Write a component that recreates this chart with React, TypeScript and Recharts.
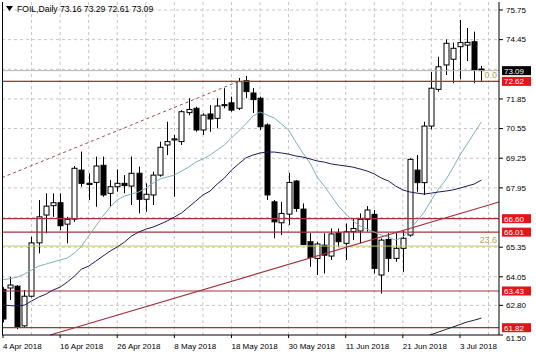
import React from 'react';
import {
	Bar,
	CartesianGrid,
	ComposedChart,
	Line,
	ReferenceLine,
	XAxis,
	YAxis,
} from 'recharts';

// daily candles, 4 Apr 2018 .. 6 Jul 2018 (index = trading day)
const opens = [
	63.5, 63.56, 63.64, 61.9, 63.2, 65.54, 66.76, 67.17,
	67.3, 66.36, 66.58, 68.73, 68.15, 68.19, 68.94, 67.71,
	68.0, 68.15, 68.03, 68.59, 67.45, 67.64, 68.51, 69.83,
	70.05, 69.98, 71.25, 71.44, 70.49, 71.19, 71.0, 71.56,
	71.68, 71.44, 72.65, 72.11, 71.88, 70.71, 67.34, 66.42,
	66.8, 68.25, 67.02, 65.59, 64.86, 65.44, 64.96, 65.98,
	65.52, 66.03, 66.06, 66.57, 66.79, 64.13, 65.69, 64.86,
	65.3, 65.88, 68.73, 68.18, 70.66, 72.27, 73.34, 73.59,
	74.14, 74.21, 74.36, 73.16,
];
const highs = [
	63.6, 64.05, 63.69, 63.47, 65.81, 67.42, 67.71, 67.71,
	67.71, 66.68, 68.91, 69.54, 68.59, 69.32, 69.32, 68.29,
	68.76, 68.51, 69.32, 68.88, 68.15, 68.66, 69.98, 70.85,
	70.27, 71.36, 71.88, 71.51, 71.22, 71.58, 71.88, 72.32,
	71.95, 72.77, 72.86, 72.33, 71.95, 70.78, 67.42, 67.34,
	68.61, 68.29, 67.27, 65.96, 65.59, 65.96, 66.17, 66.17,
	66.39, 66.61, 66.83, 67.15, 66.98, 65.74, 65.96, 65.96,
	66.1, 69.25, 69.39, 70.85, 73.04, 73.7, 74.46, 74.32,
	75.31, 74.96, 74.8, 73.29,
];
const lows = [
	62.05, 63.03, 61.76, 61.86, 63.15, 65.08, 65.96, 66.68,
	66.1, 65.52, 66.46, 68.0, 67.42, 67.12, 67.56, 67.12,
	67.78, 67.71, 67.2, 66.83, 66.9, 67.2, 68.44, 69.39,
	67.56, 69.83, 71.14, 70.41, 70.27, 70.41, 70.56, 71.44,
	71.29, 71.36, 71.88, 71.23, 70.49, 67.42, 65.74, 65.88,
	66.32, 66.9, 65.44, 64.49, 64.13, 64.2, 64.79, 65.37,
	64.79, 65.66, 65.52, 66.03, 64.2, 63.32, 64.27, 64.71,
	64.27, 65.81, 67.78, 67.64, 70.52, 72.17, 72.9, 72.54,
	72.71, 73.51, 72.54, 72.61,
];
const closes = [
	62.2, 63.69, 61.86, 63.2, 65.54, 66.68, 67.15, 67.3,
	66.29, 66.57, 68.81, 68.15, 68.1, 68.91, 67.64, 68.0,
	68.15, 68.05, 68.59, 67.45, 67.67, 68.51, 69.73, 69.98,
	70.1, 71.29, 71.39, 70.49, 71.14, 70.97, 71.54, 71.6,
	71.36, 72.61, 72.17, 71.82, 70.63, 67.64, 66.46, 66.83,
	68.19, 67.05, 65.47, 64.9, 65.49, 65.0, 65.93, 65.59,
	66.03, 66.17, 66.57, 66.98, 64.42, 65.66, 64.86, 65.3,
	65.74, 69.2, 68.18, 70.66, 72.32, 73.26, 74.29, 74.07,
	74.32, 74.33, 73.12, 73.09,
];

// moving averages
const maFast = [
	63.93, 63.97, 64.04, 64.17, 64.35, 64.52, 64.61, 64.7,
	64.79, 64.87, 65.09, 65.4, 65.84, 66.28, 66.71, 67.11,
	67.42, 67.59, 67.68, 67.77, 67.94, 68.16, 68.34, 68.43,
	68.51, 68.69, 68.86, 69.08, 69.22, 69.39, 69.61, 69.83,
	70.14, 70.44, 70.75, 71.1, 71.28, 71.14, 71.01, 70.75,
	70.49, 69.96, 69.48, 69.04, 68.43, 68.03, 67.59, 67.15,
	66.8, 66.5, 66.28, 66.14, 66.01, 65.88, 65.79, 65.66,
	65.79, 66.14, 66.5, 66.89, 67.42, 67.9, 68.29, 68.82,
	69.39, 69.87, 70.36, 70.84,
];
const maSlow = [
	62.81, 62.79, 62.77, 62.81, 62.99, 63.16, 63.29, 63.47,
	63.6, 63.82, 64.08, 64.39, 64.52, 64.74, 64.96, 65.18,
	65.36, 65.57, 65.84, 66.01, 66.14, 66.23, 66.36, 66.5,
	66.67, 66.85, 67.11, 67.37, 67.64, 67.81, 68.12, 68.38,
	68.73, 69.0, 69.26, 69.39, 69.48, 69.52, 69.52, 69.48,
	69.43, 69.35, 69.3, 69.22, 69.13, 69.08, 69.0, 68.95,
	68.91, 68.86, 68.78, 68.69, 68.56, 68.38, 68.25, 68.03,
	67.86, 67.77, 67.72, 67.68, 67.72, 67.77, 67.81, 67.86,
	67.94, 68.03, 68.12, 68.29,
];
const maLong = [
	null, null, null, null, null, null, null, null,
	null, null, null, null, null, null, null, null,
	null, null, null, null, null, null, null, null,
	null, null, null, null, null, null, null, null,
	null, null, null, null, null, null, null, null,
	null, null, null, null, null, null, null, null,
	null, null, null, null, null, null, null, null,
	null, null, null, 61.41, 61.52, 61.63, 61.74, 61.85,
	61.96, 62.07, 62.15, 62.24,
];

const dateTicks = [0, 8, 16, 24, 32, 40, 48, 56, 64];
const dateLabels = [
	'4 Apr 2018', '16 Apr 2018', '26 Apr 2018', '8 May 2018', '18 May 2018',
	'30 May 2018', '11 Jun 2018', '21 Jun 2018', '3 Jul 2018',
];
const priceTicks = [61.5, 62.8, 64.05, 65.35, 67.95, 69.25, 70.55, 71.85, 74.45, 75.75];
const gridPrices = [62.8, 64.05, 65.35, 66.65, 67.95, 69.25, 70.55, 71.85, 73.15, 74.45, 75.75];
const gridBars = [4, 8, 12, 16, 20, 24, 28, 32, 36, 40, 44, 48, 52, 56, 60, 64, 68];
const levels = [72.62, 66.6, 66.01, 63.43, 61.82];
const fibo = { zero: 72.62, level236: 65.4 };
const bid = 73.09;
const fiboDiag = [{ x: -0.14, y: 68.4 }, { x: 33, y: 72.62 }];
const trendLine = [{ x: 6.6, y: 61.5 }, { x: 69.47, y: 67.33 }];

const data = opens.map((o, i) => ({
	i,
	open: o,
	high: highs[i],
	low: lows[i],
	close: closes[i],
	maFast: maFast[i],
	maSlow: maSlow[i],
	maLong: maLong[i],
}));

const FONT = '"Liberation Sans", Arial, sans-serif';

function Candle(props: any) {
	const { x, y, width, height, payload } = props;
	const { open, close, high, low } = payload;
	const cx = Math.round(x + width / 2) + 0.5;
	const k = height / (high - low || 1);
	const top = y + (high - Math.max(open, close)) * k;
	const bot = y + (high - Math.min(open, close)) * k;
	const up = close >= open;
	return (
		<g>
			<line x1={cx} x2={cx} y1={y} y2={y + height} stroke='#000' />
			<rect
				x={cx - 2.5}
				y={top}
				width={5}
				height={Math.max(bot - top, 1)}
				fill={up ? '#fff' : '#000'}
				stroke='#000'
				strokeWidth={1}
			/>
		</g>
	);
}

function PriceTag({ viewBox, text, bg }: any) {
	if (!viewBox) return null;
	const y = viewBox.y;
	const x = viewBox.x + viewBox.width + 3;
	return (
		<g>
			<rect x={x} y={y - 4.5} width={29} height={9} fill={bg} />
			<text x={x + 2} y={y + 3} fontSize={8} fontFamily={FONT} fill='#fff'>
				{text}
			</text>
		</g>
	);
}

function FiboTag({ viewBox, text }: any) {
	if (!viewBox) return null;
	return (
		<text
			x={viewBox.x + viewBox.width - 2}
			y={viewBox.y - 3}
			fontSize={9}
			fontFamily={FONT}
			textAnchor='end'
			fill='#b5a35a'
		>
			{text}
		</text>
	);
}

function DateTick({ x, y, payload }: any) {
	const label = dateLabels[dateTicks.indexOf(payload.value)];
	return (
		<text x={x} y={y} dy='0.71em' fontSize={8} fontFamily={FONT} textAnchor='start' fill='#000'>
			{label}
		</text>
	);
}

function PriceTick({ x, y, payload }: any) {
	// the lowest label sits just under the frame in the original
	const shift = payload.value === priceTicks[0] ? 3 : 0;
	return (
		<text x={x} y={y + shift} dy='0.355em' fontSize={8} fontFamily={FONT} textAnchor='start' fill='#000'>
			{payload.value.toFixed(2)}
		</text>
	);
}

export default function App() {
	return (
		<div style={{ position: 'absolute', left: 0, top: 0, width: 536, height: 357, background: '#fff' }}>
			<ComposedChart
				width={536}
				height={357}
				data={data}
				margin={{ top: 2, right: 0, bottom: 0, left: 2 }}
			>
				<CartesianGrid
					stroke='#c4c4c4'
					strokeDasharray='3 3'
					horizontalValues={gridPrices}
					verticalValues={gridBars}
				/>
				<XAxis
					type='number'
					dataKey='i'
					domain={[-0.14, 69.47]}
					allowDataOverflow
					ticks={dateTicks}
					tick={<DateTick />}
					tickSize={3}
					tickMargin={5}
					height={22}
					stroke='#000'
					interval={0}
				/>
				<YAxis
					orientation='right'
					domain={[61.5, 76.1]}
					allowDataOverflow
					ticks={priceTicks}
					tick={<PriceTick />}
					tickSize={4}
					tickMargin={3}
					width={37}
					stroke='#000'
					interval={0}
				/>
				<ReferenceLine y={bid} stroke='#b4b4b4' label={<PriceTag text={bid.toFixed(2)} bg='#000' />} />
				<ReferenceLine y={fibo.zero} stroke='#c9bf7a' label={<FiboTag text='0.0' />} />
				<ReferenceLine y={fibo.level236} stroke='#c9c46e' label={<FiboTag text='23.6' />} />
				{levels.map((lv) => (
					<ReferenceLine
						key={lv}
						y={lv}
						stroke='#a8323c'
						strokeWidth={1.2}
						label={<PriceTag text={lv.toFixed(2)} bg='#e3141a' />}
					/>
				))}
				<ReferenceLine segment={fiboDiag} stroke='#a04a4a' strokeDasharray='3 3' />
				<ReferenceLine segment={trendLine} stroke='#a8323c' strokeWidth={1.2} />
				<Line
					dataKey='maFast'
					stroke='#7fb1b8'
					dot={false}
					strokeWidth={1}
					isAnimationActive={false}
				/>
				<Line
					dataKey='maSlow'
					stroke='#1c1c5c'
					dot={false}
					strokeWidth={1}
					isAnimationActive={false}
				/>
				<Line
					dataKey='maLong'
					stroke='#1a2a2a'
					dot={false}
					strokeWidth={1}
					isAnimationActive={false}
				/>
				<Bar
					dataKey={(d: any) => [d.low, d.high]}
					barSize={5}
					shape={<Candle />}
					isAnimationActive={false}
				/>
			</ComposedChart>
			<div
				style={{
					position: 'absolute',
					left: 2,
					top: 2,
					width: 1,
					height: 333,
					background: '#000',
				}}
			/>
			<svg style={{ position: 'absolute', left: 6, top: 6 }} width={8} height={6}>
				<polygon points='0,0 7,0 3.5,5' fill='#000' />
			</svg>
			<div
				style={{
					position: 'absolute',
					left: 17,
					top: 3,
					fontFamily: FONT,
					fontSize: 8.6,
					color: '#000',
					whiteSpace: 'pre',
					lineHeight: '12px',
				}}
			>
				FOIL,Daily 73.16 73.29 72.61 73.09
			</div>
		</div>
	);
}
